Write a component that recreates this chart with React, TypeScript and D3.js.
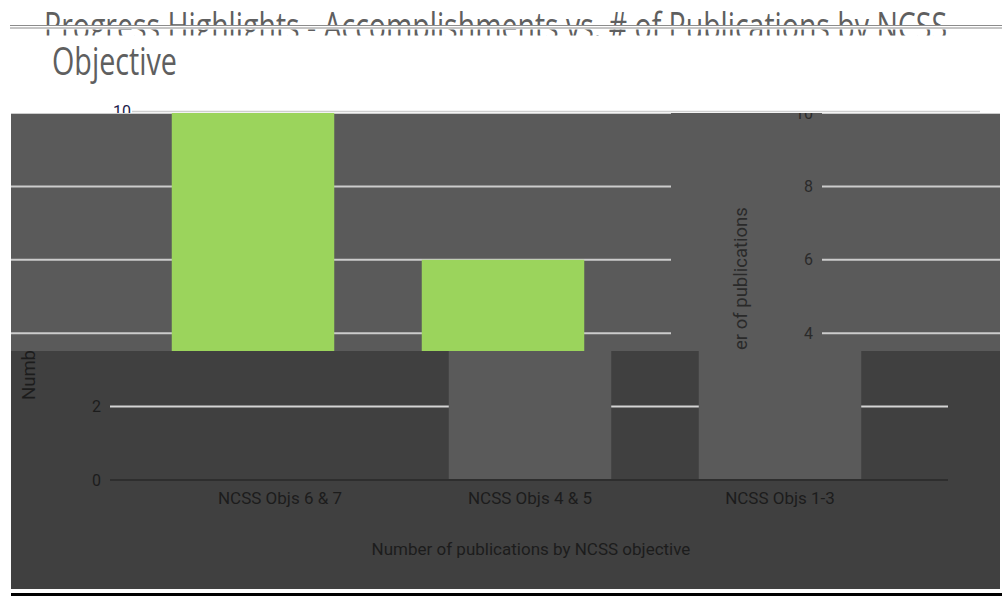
import React from "react";
import * as d3 from "d3";

// chart values
const categories = ["NCSS Objs 6 & 7", "NCSS Objs 4 & 5", "NCSS Objs 1-3"];
const publications = [0, 10, 6];
const yTicks = [0, 2, 4, 6, 8, 10];
const titleLines = [
  "Progress Highlights - Accomplishments vs. # of Publications by NCSS",
  "Objective",
];
const yTitle = "Number of publications";
const xTitle = "Number of publications by NCSS objective";

// layout
const W = 1002;
const H = 599;
const plotLeft = 110;
const plotRight = 948;
const plotTop = 113;
const plotBottom = 480;
const frameLeft = 11;
const frameRight = 1000;
const bandSplit = 351;
const frameBottom = 589;
// the upper band of the picture is the same chart slid sideways and wrapped
const shiftLeft = -277;
const shiftWrap = 712;

const y = d3.scaleLinear().domain([0, 10]).range([plotBottom, plotTop]);
const x = d3
  .scaleBand<string>()
  .domain(categories)
  .range([155, 905])
  .paddingInner(0.35)
  .paddingOuter(0.175);

interface Palette {
  bg: string;
  grid: string;
  bar: string;
  text: string;
  axis: string;
}

const upper: Palette = {
  bg: "#5a5a5a",
  grid: "#cccccc",
  bar: "#9bd45c",
  text: "#2a2a2a",
  axis: "#2c2c2c",
};

const lower: Palette = {
  bg: "#404040",
  grid: "#d4d4d4",
  bar: "#5a5a5a",
  text: "#1c1c1c",
  axis: "#2e2e2e",
};

const axisFont = "Roboto, 'Open Sans', sans-serif";

interface LayerProps {
  p: Palette;
  dx: number;
  ticks: number[]; // which tick labels fall inside this band
  showYTitle: boolean;
  showXText: boolean;
}

const ChartLayer = ({ p, dx, ticks, showYTitle, showXText }: LayerProps) => {
  const rows = categories.map((c, i) => ({ name: c, value: publications[i] }));
  return (
    <g transform={`translate(${dx},0)`} fontFamily={axisFont}>
      {yTicks
        .filter((t) => t > 0)
        .map((t) => (
          <line
            key={t}
            x1={plotLeft}
            x2={plotRight}
            y1={y(t)}
            y2={y(t)}
            stroke={p.grid}
            strokeWidth={2}
          />
        ))}
      <line
        x1={plotLeft}
        x2={plotRight}
        y1={y(0)}
        y2={y(0)}
        stroke={p.axis}
        strokeWidth={2}
      />
      {rows.map((d) => (
        <rect
          key={d.name}
          x={x(d.name)}
          width={x.bandwidth()}
          y={y(d.value)}
          height={Math.max(0, y(0) - y(d.value) - 1)}
          fill={p.bar}
        />
      ))}
      {ticks.map((t) => (
        <text
          key={t}
          x={plotLeft - 9}
          y={y(t)}
          dy="0.35em"
          textAnchor="end"
          fontSize={16}
          fill={p.text}
        >
          {t}
        </text>
      ))}
      {showYTitle && (
        <text
          transform={`translate(35,${plotBottom - 80}) rotate(-90)`}
          textAnchor="start"
          fontSize={18.5}
          fill={p.text}
        >
          {yTitle}
        </text>
      )}
      {showXText &&
        categories.map((c) => (
          <text
            key={c}
            x={(x(c) as number) + x.bandwidth() / 2}
            y={plotBottom + 24}
            textAnchor="middle"
            fontSize={17}
            fill={p.text}
          >
            {c}
          </text>
        ))}
      {showXText && (
        <text
          x={(plotLeft + plotRight) / 2 + 2}
          y={555}
          textAnchor="middle"
          fontSize={17}
          fill={p.text}
        >
          {xTitle}
        </text>
      )}
    </g>
  );
};

const App = () => {
  const upperTicks = yTicks.filter((t) => y(t) < bandSplit);
  const lowerTicks = yTicks.filter((t) => y(t) > bandSplit);
  return (
    <div style={{ position: "fixed", left: 0, top: 0 }}>
      <svg width={W} height={H} style={{ display: "block", background: "#ffffff" }}>
        <defs>
          <clipPath id="clipUpper">
            <rect x={frameLeft} y={plotTop} width={frameRight - frameLeft} height={bandSplit - plotTop} />
          </clipPath>
          <clipPath id="clipLower">
            <rect x={frameLeft} y={bandSplit} width={frameRight - frameLeft} height={frameBottom - bandSplit} />
          </clipPath>
          <clipPath id="clipTitle">
            <rect x={0} y={0} width={W} height={25} />
            <rect x={0} y={29.5} width={W} height={6} />
          </clipPath>
          <clipPath id="clipStrip">
            <rect x={0} y={90} width={W} height={plotTop - 90} />
          </clipPath>
        </defs>

        {/* title */}
        <g fontFamily="'Open Sans', sans-serif" fill="#5f5f5f">
          <text
            x={44}
            y={40}
            fontSize={39}
            textLength={903}
            lengthAdjust="spacingAndGlyphs"
            clipPath="url(#clipTitle)"
          >
            {titleLines[0]}
          </text>
          <text x={52} y={75} fontSize={39} textLength={125} lengthAdjust="spacingAndGlyphs">
            {titleLines[1]}
          </text>
        </g>
        <line x1={10} x2={W} y1={25.5} y2={25.5} stroke="#8c8c8c" strokeWidth={1} />
        <line x1={10} x2={W} y1={28} y2={28} stroke="#8c8c8c" strokeWidth={1} />

        {/* strip above the plot */}
        <g clipPath="url(#clipStrip)">
          <line x1={132} x2={980} y1={111.5} y2={111.5} stroke="#cfcfcf" strokeWidth={1.5} />
          <text
            x={131}
            y={plotTop + 4}
            textAnchor="end"
            fontSize={16}
            fontFamily={axisFont}
            fill="#1c1c4a"
          >
            {yTicks[yTicks.length - 1]}
          </text>
        </g>

        {/* upper band */}
        <g clipPath="url(#clipUpper)">
          <rect x={frameLeft} y={plotTop} width={frameRight - frameLeft} height={bandSplit - plotTop} fill={upper.bg} />
          <ChartLayer p={upper} dx={shiftLeft} ticks={[]} showYTitle={false} showXText={false} />
          <ChartLayer p={upper} dx={shiftWrap} ticks={upperTicks} showYTitle={true} showXText={false} />
        </g>

        {/* lower band */}
        <g clipPath="url(#clipLower)">
          <rect x={frameLeft} y={bandSplit} width={frameRight - frameLeft} height={frameBottom - bandSplit} fill={lower.bg} />
          <ChartLayer p={lower} dx={0} ticks={lowerTicks} showYTitle={true} showXText={true} />
        </g>

        <rect x={frameLeft} y={593} width={W - frameLeft} height={3} fill="#000000" />
      </svg>
    </div>
  );
};

export default App;
